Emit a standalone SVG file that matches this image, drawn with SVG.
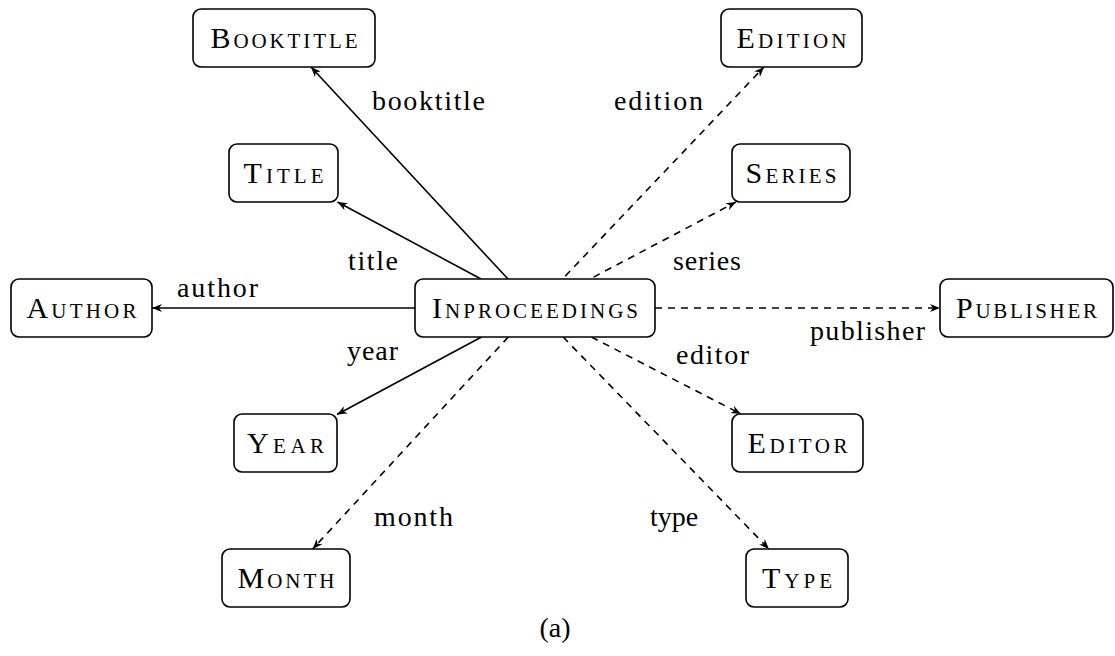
<svg xmlns="http://www.w3.org/2000/svg" width="1115" height="656" viewBox="0 0 1115 656">
  <style>
    .box { fill: #ffffff; stroke: #000000; stroke-width: 1.6; }
    .nlabel { font-family: "Liberation Serif", "DejaVu Serif", serif; font-size: 30px; font-variant: small-caps; text-anchor: middle; fill: #000000; }
    .elabel { font-family: "Liberation Serif", "DejaVu Serif", serif; font-size: 28px; text-anchor: middle; fill: #000000; }
    .edge { fill: none; stroke: #000000; stroke-width: 1.6; marker-end: url(#stealth); }
    .dashed { stroke-dasharray: 7 6; }
  </style>
  <defs>
    <marker id="stealth" markerUnits="userSpaceOnUse" viewBox="0 0 10 8" refX="10" refY="4" markerWidth="10" markerHeight="8" orient="auto">
      <path d="M0,0 L10,4 L0,8 L3,4 Z" fill="#000000"/>
    </marker>
  </defs>

  <rect width="1115" height="656" fill="#ffffff"/>

  <!-- connectors from the central entry type -->
  <g id="connectors">
    <line class="edge" x1="508" y1="279" x2="311" y2="67"/>
    <line class="edge" x1="481" y1="279" x2="337.5" y2="202"/>
    <line class="edge" x1="415" y1="308" x2="152" y2="308"/>
    <line class="edge" x1="481.5" y1="337" x2="337" y2="414.5"/>
    <line class="edge dashed" x1="508.3" y1="337" x2="312.7" y2="549"/>
    <line class="edge dashed" x1="562.5" y1="279" x2="764" y2="67" stroke-dashoffset="9"/>
    <line class="edge dashed" x1="590" y1="279" x2="736" y2="202" stroke-dashoffset="9"/>
    <line class="edge dashed" x1="655" y1="308" x2="940" y2="308"/>
    <line class="edge dashed" x1="591.4" y1="337" x2="741" y2="414"/>
    <line class="edge dashed" x1="563.1" y1="337" x2="768.9" y2="549"/>
  </g>

  <!-- connector labels -->
  <g id="edge-labels">
    <text class="elabel" x="428.5" y="110" textLength="113">booktitle</text>
    <text class="elabel" x="658.5" y="110" textLength="89">edition</text>
    <text class="elabel" x="373" y="270" textLength="50">title</text>
    <text class="elabel" x="707" y="270" textLength="68">series</text>
    <text class="elabel" x="217.5" y="297" textLength="81">author</text>
    <text class="elabel" x="867.5" y="340" textLength="115">publisher</text>
    <text class="elabel" x="372.5" y="360" textLength="51">year</text>
    <text class="elabel" x="712.5" y="364" textLength="73">editor</text>
    <text class="elabel" x="413.5" y="526" textLength="79">month</text>
    <text class="elabel" x="674" y="526">type</text>
  </g>

  <g id="node-booktitle">
    <rect class="box" x="193" y="9" width="182" height="58" rx="8"/>
    <text class="nlabel" x="284" y="48" textLength="147">Booktitle</text>
  </g>
  <g id="node-edition">
    <rect class="box" x="721" y="9" width="141" height="58" rx="8"/>
    <text class="nlabel" x="791.5" y="48" textLength="110">Edition</text>
  </g>
  <g id="node-title">
    <rect class="box" x="229" y="144" width="109" height="58" rx="8"/>
    <text class="nlabel" x="283.5" y="183" textLength="80">Title</text>
  </g>
  <g id="node-series">
    <rect class="box" x="732" y="144" width="118" height="58" rx="8"/>
    <text class="nlabel" x="791" y="183" textLength="91">Series</text>
  </g>
  <g id="node-author">
    <rect class="box" x="11" y="279" width="141" height="58" rx="8"/>
    <text class="nlabel" x="81.5" y="318" textLength="110">Author</text>
  </g>
  <g id="node-inproceedings">
    <rect class="box" x="415" y="279" width="240" height="58" rx="8"/>
    <text class="nlabel" x="535" y="318" textLength="206">Inproceedings</text>
  </g>
  <g id="node-publisher">
    <rect class="box" x="940" y="279" width="173" height="58" rx="8"/>
    <text class="nlabel" x="1026.5" y="318" textLength="141">Publisher</text>
  </g>
  <g id="node-year">
    <rect class="box" x="234" y="414" width="103" height="58" rx="8"/>
    <text class="nlabel" x="285.5" y="453" textLength="77">Year</text>
  </g>
  <g id="node-editor">
    <rect class="box" x="732" y="414" width="131" height="58" rx="8"/>
    <text class="nlabel" x="797.5" y="453" textLength="100">Editor</text>
  </g>
  <g id="node-month">
    <rect class="box" x="222" y="549" width="128" height="58" rx="8"/>
    <text class="nlabel" x="286" y="588" textLength="97">Month</text>
  </g>
  <g id="node-type">
    <rect class="box" x="746" y="549" width="102" height="58" rx="8"/>
    <text class="nlabel" x="797" y="588" textLength="70">Type</text>
  </g>

  <text class="elabel" x="555" y="637">(a)</text>
</svg>
